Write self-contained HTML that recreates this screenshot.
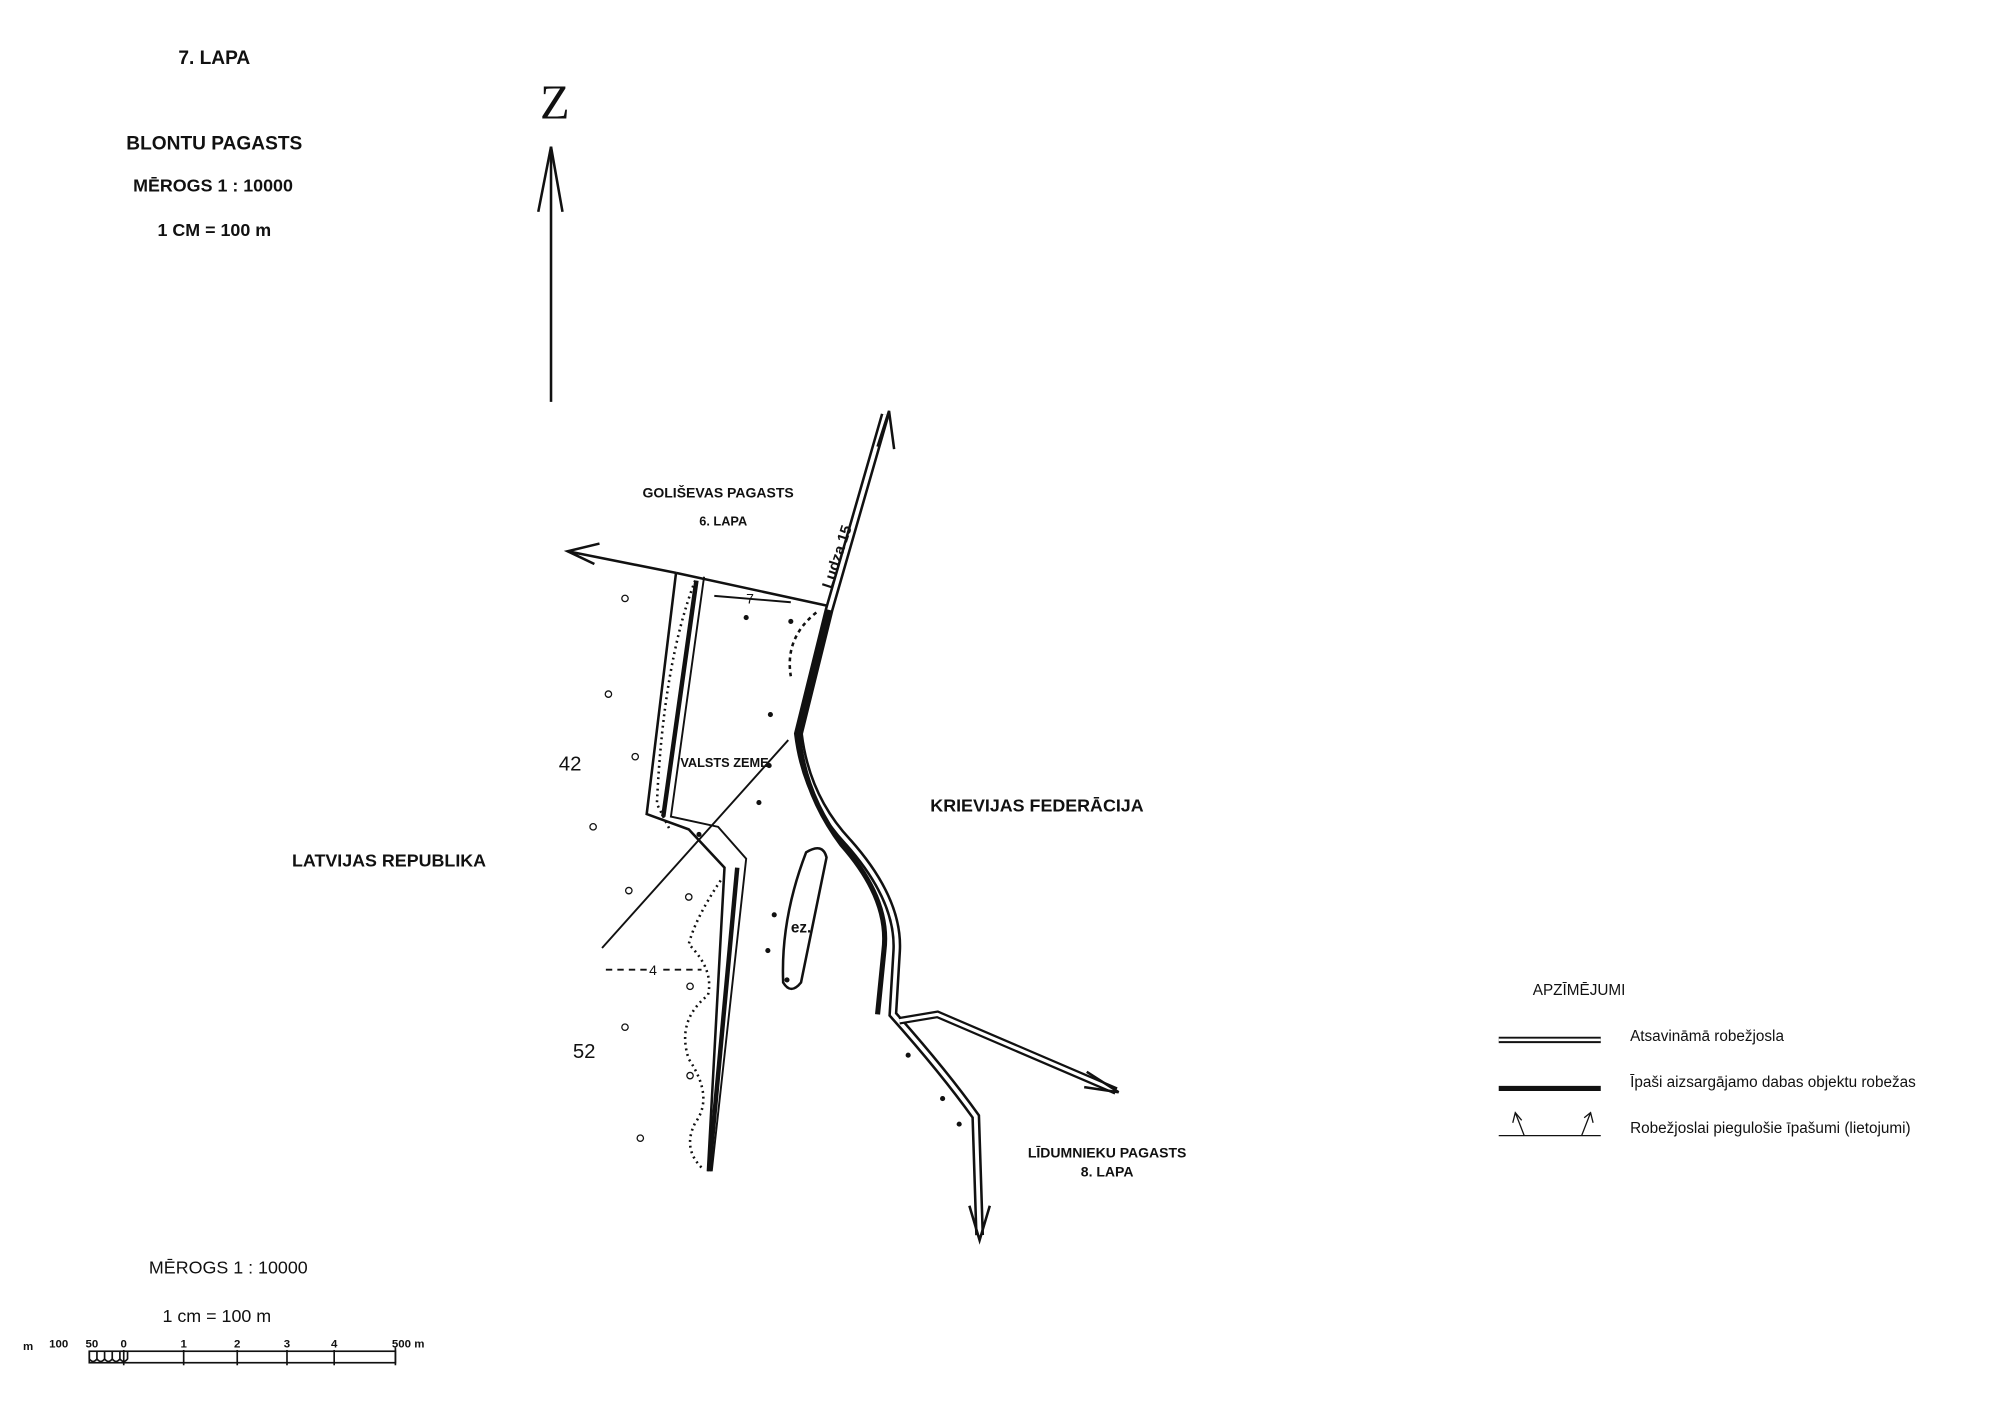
<!DOCTYPE html>
<html><head><meta charset="utf-8"><style>
html,body{margin:0;padding:0;background:#fff;width:2000px;height:1401px;overflow:hidden}
svg{display:block}
text{font-family:"Liberation Sans",sans-serif;fill:#111}
.b{font-weight:bold}
</style></head><body>
<svg width="2000" height="1401" viewBox="0 0 1568 1098" preserveAspectRatio="none" xmlns="http://www.w3.org/2000/svg">
<rect width="1568" height="1098" fill="#fff"/>
<g text-anchor="middle">
<text x="168" y="50" font-size="15" class="b">7. LAPA</text>
<text x="168" y="117" font-size="15" class="b">BLONTU PAGASTS</text>
<text x="167" y="150" font-size="14" class="b">MĒROGS 1 : 10000</text>
<text x="168" y="185" font-size="14" class="b">1 CM = 100 m</text>
<text x="435" y="93" font-size="38" style="font-family:'Liberation Serif',serif">Z</text>
</g>
<g stroke="#111" fill="none" stroke-width="2">
<line x1="432" y1="115" x2="432" y2="315"/>
<polyline points="422,166 432,115 441,166"/>
<line x1="530" y1="449" x2="445" y2="432"/>
<polyline points="470,426 445,432 466,442"/>
<line x1="530" y1="449" x2="650" y2="475"/>
<path d="M694,325 L650,478 L626,575 Q632,625 665,660 Q705,705 703,745 L700,795 Q740,840 765,875 L768,968" stroke-width="7"/>
<path d="M694,325 L650,478 L626,575 Q632,625 665,660 Q705,705 703,745 L700,795 Q740,840 765,875 L768,968" stroke="#fff" stroke-width="3"/>
<polyline points="688,350 697,322 701,352"/>
<polyline points="760,945 768,972 776,945"/>
<path d="M705,800 L735,795 L875,855" stroke-width="6"/>
<path d="M705,800 L735,795 L875,855" stroke="#fff" stroke-width="2.5"/>
<polyline points="852,840 877,856 850,852"/>
<path d="M650,478 L626,575 Q630,622 660,662 Q698,705 693,745 L688,795" stroke-width="4"/>
<polyline points="530,449 507,638 540,650 568,680 555,918"/>
<polyline points="552,452 526,640 563,648 585,673 558,918" stroke-width="1.5"/>
<line x1="546" y1="455" x2="520" y2="640" stroke-width="3.5"/>
<line x1="578" y1="680" x2="556" y2="918" stroke-width="3.5"/>
<line x1="472" y1="743" x2="618" y2="580" stroke-width="1.5"/>
<line x1="475" y1="760" x2="508" y2="760" stroke-width="1.5" stroke-dasharray="5,4"/>
<line x1="520" y1="760" x2="550" y2="760" stroke-width="1.5" stroke-dasharray="5,4"/>
<path d="M632,668 Q645,660 648,672 L628,770 Q620,780 614,770 Q612,720 632,668Z" stroke-width="2"/>
<path d="M545,455 Q520,520 515,630 Q520,640 525,650" stroke-width="2" stroke-dasharray="1.5,3"/>
<path d="M565,690 Q545,720 540,740 Q560,760 555,780 Q530,800 540,830 Q560,860 545,880 Q535,900 550,915" stroke-width="2" stroke-dasharray="1.5,3"/>
<path d="M640,480 Q615,500 620,530" stroke-width="2" stroke-dasharray="3,3"/>
<line x1="560" y1="467" x2="620" y2="472" stroke-width="1.5"/>
</g>
<g fill="#111">
<circle cx="490" cy="469" r="2.5" fill="none" stroke="#111"/><circle cx="477" cy="544" r="2.5" fill="none" stroke="#111"/>
<circle cx="498" cy="593" r="2.5" fill="none" stroke="#111"/><circle cx="465" cy="648" r="2.5" fill="none" stroke="#111"/>
<circle cx="493" cy="698" r="2.5" fill="none" stroke="#111"/><circle cx="540" cy="703" r="2.5" fill="none" stroke="#111"/>
<circle cx="541" cy="773" r="2.5" fill="none" stroke="#111"/><circle cx="490" cy="805" r="2.5" fill="none" stroke="#111"/>
<circle cx="502" cy="892" r="2.5" fill="none" stroke="#111"/><circle cx="541" cy="843" r="2.5" fill="none" stroke="#111"/>
<circle cx="607" cy="717" r="2"/><circle cx="602" cy="745" r="2"/><circle cx="617" cy="768" r="2"/>
<circle cx="585" cy="484" r="2"/><circle cx="604" cy="560" r="2"/><circle cx="620" cy="487" r="2"/>
<circle cx="712" cy="827" r="2"/><circle cx="739" cy="861" r="2"/><circle cx="752" cy="881" r="2"/>
<circle cx="548" cy="654" r="2"/><circle cx="603" cy="600" r="2"/><circle cx="595" cy="629" r="2"/>
</g>
<g font-size="11" class="b" text-anchor="middle">
<text x="563" y="390">GOLIŠEVAS PAGASTS</text>
<text x="567" y="412" font-size="10">6. LAPA</text>
<text x="568" y="601" font-size="10">VALSTS ZEME</text>
<text x="868" y="907">LĪDUMNIEKU PAGASTS</text>
<text x="868" y="922">8. LAPA</text>
</g>
<g font-size="14" class="b" text-anchor="middle">
<text x="813" y="636">KRIEVIJAS FEDERĀCIJA</text>
<text x="305" y="679">LATVIJAS REPUBLIKA</text>
</g>
<text x="447" y="604" font-size="16" text-anchor="middle">42</text>
<text x="458" y="829" font-size="16" text-anchor="middle">52</text>
<text x="628" y="731" font-size="12" class="b" text-anchor="middle">ez.</text>
<text x="512" y="764" font-size="11" text-anchor="middle">4</text>
<text x="588" y="473" font-size="11" text-anchor="middle">7</text>
<text x="0" y="0" font-size="12" class="b" transform="translate(652,462) rotate(-72)">Ludza 15</text>
<text x="1238" y="780" font-size="12" text-anchor="middle">APZĪMĒJUMI</text>
<g stroke="#111" fill="none">
<line x1="1175" y1="815" x2="1255" y2="815" stroke-width="5"/>
<line x1="1175" y1="815" x2="1255" y2="815" stroke="#fff" stroke-width="2"/>
<line x1="1175" y1="853" x2="1255" y2="853" stroke-width="4"/>
<line x1="1175" y1="890" x2="1255" y2="890" stroke-width="1"/>
<line x1="1195" y1="890" x2="1188" y2="872"/><polyline points="1186,880 1188,872 1193,878"/>
<line x1="1240" y1="890" x2="1247" y2="872"/><polyline points="1242,876 1247,872 1249,880"/>
</g>
<g font-size="12">
<text x="1278" y="816">Atsavināmā robežjosla</text>
<text x="1278" y="852">Īpaši aizsargājamo dabas objektu robežas</text>
<text x="1278" y="888">Robežjoslai piegulošie īpašumi (lietojumi)</text>
</g>
<text x="179" y="998" font-size="14" text-anchor="middle">MĒROGS 1 : 10000</text>
<text x="170" y="1036" font-size="14" text-anchor="middle">1 cm = 100 m</text>
<g font-size="9" class="b" text-anchor="middle">
<text x="22" y="1058">m</text><text x="46" y="1056">100</text><text x="72" y="1056">50</text>
<text x="97" y="1056">0</text><text x="144" y="1056">1</text><text x="186" y="1056">2</text>
<text x="225" y="1056">3</text><text x="262" y="1056">4</text><text x="320" y="1056">500 m</text>
</g>
<g stroke="#111" fill="none" stroke-width="1.3">
<rect x="70" y="1059" width="240" height="9"/>
<line x1="97" y1="1058" x2="97" y2="1070"/><line x1="144" y1="1058" x2="144" y2="1070"/>
<line x1="186" y1="1058" x2="186" y2="1070"/><line x1="225" y1="1058" x2="225" y2="1070"/>
<line x1="262" y1="1058" x2="262" y2="1070"/><line x1="310" y1="1056" x2="310" y2="1070"/>
<path d="M70,1059 v6 q3,4 6,0 v-6 m0,0 v6 q3,4 6,0 v-6 m0,0 v6 q3,4 6,0 v-6 m0,0 v6 q3,4 6,0 v-6 m0,0 v6 q3,4 6,0 v-6"/>
</g>
</svg>
</body></html>
